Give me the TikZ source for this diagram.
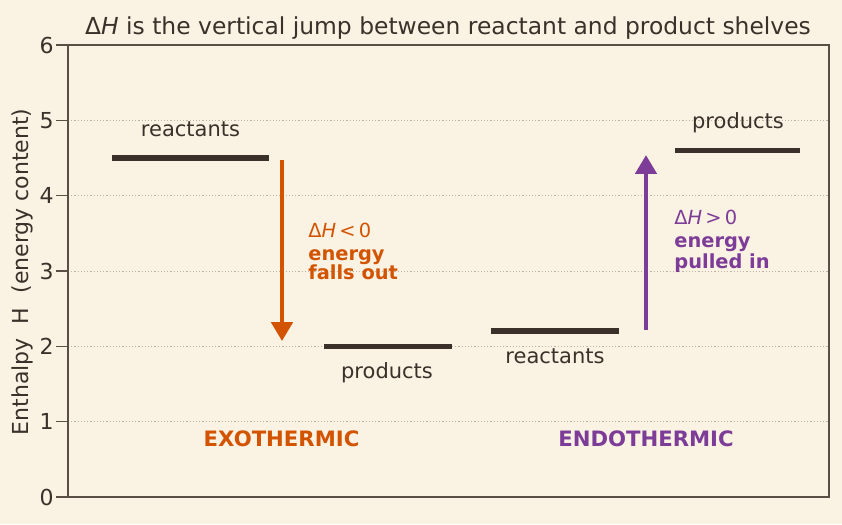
\documentclass[tikz,border=0pt]{standalone}
\usepackage{fontspec}
\setmainfont{DejaVu Sans}
\usepackage{tikz}
\usetikzlibrary{arrows.meta}
\definecolor{paper}{HTML}{FAF2E3}
\definecolor{ink}{HTML}{3B312A}
\definecolor{framecol}{HTML}{5B4F45}
\definecolor{gridcol}{HTML}{BDB4A6}
\definecolor{exocol}{HTML}{D35400}
\definecolor{endocol}{HTML}{7D3C98}
\tikzset{
  shelfline/.style = {line width=2.8pt,ink},
  jumparr/.style   = {-{Triangle[length=9.5pt,width=10.5pt]},line width=2.4pt},
  gridline/.style  = {gridcol,line width=0.45pt,dash pattern=on 0.6pt off 1pt},
  frameline/.style = {framecol,line width=0.75pt},
  lbl/.style       = {font=\fontsize{10.5}{12}\selectfont,ink,anchor=base,inner sep=0pt},
  note/.style      = {font=\fontsize{9.7}{11}\selectfont,anchor=base west,inner sep=0pt},
  kind/.style      = {font=\fontsize{10.6}{12}\selectfont\bfseries,anchor=base,inner sep=0pt}
}
\newcommand{\shelf}[4]{%
  \coordinate (#1-l) at (#2,#4);
  \coordinate (#1-r) at (#3,#4);
  \draw[shelfline] (#1-l) -- (#1-r);
}
\newcommand{\dH}{Δ\textit{H}}

\begin{document}
\begin{tikzpicture}[x=0.5pt,y=37.667pt]
  \fill[paper] (-68,-0.3584) rectangle (774,6.5975);
  \useasboundingbox (-68,-0.3584) rectangle (774,6.5975);
  \foreach \yy in {1,...,5}
    \draw[gridline] (0,\yy) -- (761,\yy);
  \draw[frameline] (0,0) rectangle (761,6);
  \foreach \yy in {0,...,6} {
    \draw[frameline] (0,\yy) -- (-12,\yy);
    \node[font=\fontsize{11}{13}\selectfont,ink,anchor=east,inner sep=0pt]
      (tick\yy) at (-14,\yy) {\yy};
  }
  \node[font=\fontsize{11}{13}\selectfont,ink,rotate=90] (ylab) at (-46,2.99)
    {Enthalpy\ \ H\ \ (energy content)};
  \node[lbl,font=\fontsize{11.7}{14}\selectfont] (title) at (380,6.142)
    {\dH\ is the vertical jump between reactant and product shelves};

  % exothermic side
  \shelf{exoR}{44}{201}{4.5}
  \shelf{exoP}{256}{384}{2.0}
  \node[lbl] (exoRlbl) at (122.5,4.792) {reactants};
  \node[lbl] (exoPlbl) at (319,1.576) {products};
  \coordinate (exotop) at (214,4.47);
  \coordinate (exobot) at (214,2.07);
  \draw[jumparr,exocol] (exotop) -- (exobot);
  \node[note,exocol] (exo1) at (240,3.447) {\dH\,<\,0};
  \node[note,exocol,font=\fontsize{9.7}{11}\selectfont\bfseries] (exo2) at (240,3.146) {energy};
  \node[note,exocol,font=\fontsize{9.7}{11}\selectfont\bfseries] (exo3) at (240,2.881) {falls out};
  \node[kind,exocol] (exokind) at (213.5,0.664) {EXOTHERMIC};

  % endothermic side
  \shelf{endoR}{423}{551}{2.2}
  \shelf{endoP}{607}{732}{4.6}
  \node[lbl] (endoRlbl) at (487,1.775) {reactants};
  \node[lbl] (endoPlbl) at (670,4.892) {products};
  \coordinate (endobot) at (578,2.22);
  \coordinate (endotop) at (578,4.54);
  \draw[jumparr,endocol] (endobot) -- (endotop);
  \node[note,endocol] (endo1) at (606,3.62) {\dH\,>\,0};
  \node[note,endocol,font=\fontsize{9.7}{11}\selectfont\bfseries] (endo2) at (606,3.315) {energy};
  \node[note,endocol,font=\fontsize{9.7}{11}\selectfont\bfseries] (endo3) at (606,3.036) {pulled in};
  \node[kind,endocol] (endokind) at (578,0.664) {ENDOTHERMIC};
\end{tikzpicture}
\end{document}
